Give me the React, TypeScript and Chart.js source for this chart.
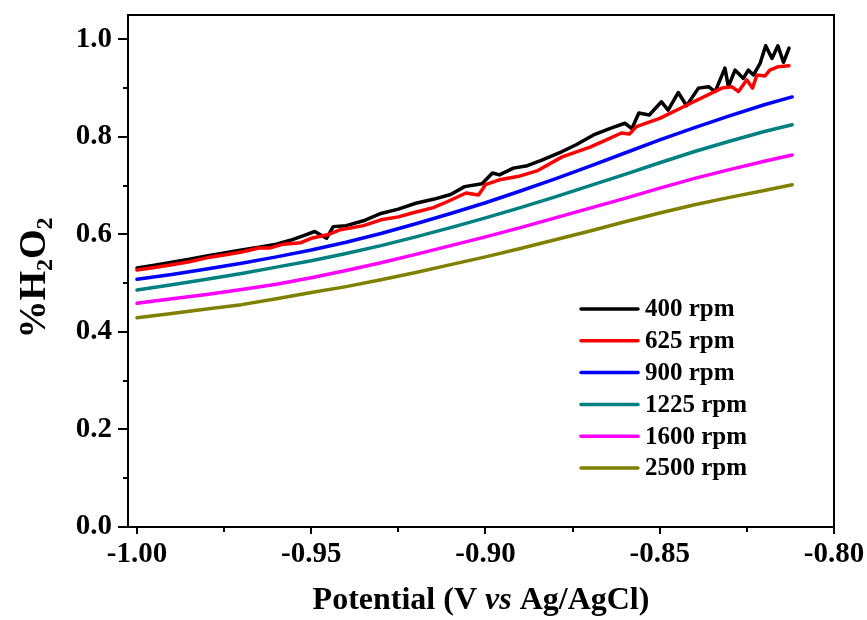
import { useEffect, useRef } from 'react';
import { Chart, registerables } from 'chart.js';

Chart.register(...registerables);

// ---------- data ----------
const seriesNames = ['400 rpm', '625 rpm', '900 rpm', '1225 rpm', '1600 rpm', '2500 rpm'];

const potential400 = [
  -1.0, -0.995, -0.99, -0.985, -0.98, -0.975, -0.97, -0.965, -0.96, -0.956, -0.952, -0.949, -0.9456, -0.9437,
  -0.94, -0.935, -0.93, -0.925, -0.92, -0.915, -0.91, -0.906, -0.901, -0.898, -0.896, -0.892, -0.888, -0.884,
  -0.878, -0.874, -0.869, -0.864, -0.86, -0.858, -0.856, -0.853, -0.8495, -0.8476, -0.8447, -0.8423, -0.8389,
  -0.836, -0.8341, -0.8313, -0.8303, -0.8284, -0.826, -0.8246, -0.8231, -0.8212, -0.8196, -0.8178, -0.8161,
  -0.8145, -0.8129,
];
const h2o2_400 = [
  0.531, 0.537, 0.543, 0.549, 0.556, 0.562, 0.568, 0.574, 0.58, 0.588, 0.598, 0.606, 0.592, 0.616,
  0.618, 0.628, 0.643, 0.652, 0.664, 0.672, 0.682, 0.698, 0.704, 0.726, 0.722, 0.736, 0.741, 0.752,
  0.77, 0.784, 0.804, 0.818, 0.828, 0.817, 0.849, 0.845, 0.872, 0.855, 0.891, 0.864, 0.9,
  0.903, 0.893, 0.941, 0.903, 0.937, 0.92, 0.937, 0.927, 0.951, 0.987, 0.961, 0.987,
  0.953, 0.982,
];

const potential625 = [
  -1.0, -0.995, -0.99, -0.985, -0.98, -0.975, -0.97, -0.965, -0.962, -0.958, -0.953, -0.95, -0.945, -0.942,
  -0.935, -0.93, -0.925, -0.921, -0.915, -0.911, -0.9056, -0.902, -0.9, -0.896, -0.89, -0.885, -0.878, -0.87,
  -0.865, -0.861, -0.8587, -0.8567, -0.85, -0.842, -0.8322, -0.8294, -0.8274, -0.825, -0.8234, -0.8221,
  -0.8198, -0.8184, -0.816, -0.8129,
];
const h2o2_625 = [
  0.527, 0.532, 0.538, 0.544, 0.552, 0.558, 0.564, 0.572, 0.572, 0.58, 0.583, 0.592, 0.6, 0.609,
  0.618, 0.63, 0.636, 0.644, 0.655, 0.667, 0.685, 0.681, 0.702, 0.712, 0.72, 0.731, 0.759, 0.779,
  0.795, 0.808, 0.806, 0.821, 0.838, 0.866, 0.9, 0.903, 0.893, 0.917, 0.9, 0.927,
  0.925, 0.937, 0.944, 0.946,
];

const potentialCommon = [
  -1.0, -0.99, -0.98, -0.97, -0.96, -0.95, -0.94, -0.93, -0.92, -0.91, -0.9, -0.89, -0.88, -0.87, -0.86, -0.85,
  -0.84, -0.83, -0.82, -0.812,
];
const h2o2_900 = [
  0.508, 0.518, 0.529, 0.541, 0.554, 0.568, 0.584, 0.602, 0.622, 0.643, 0.665, 0.689, 0.714, 0.74, 0.767, 0.794,
  0.819, 0.843, 0.866, 0.882,
];
const h2o2_1225 = [
  0.486, 0.497, 0.508, 0.52, 0.533, 0.546, 0.561, 0.577, 0.595, 0.614, 0.634, 0.655, 0.677, 0.7, 0.723, 0.747,
  0.77, 0.791, 0.811, 0.825,
];
const h2o2_1600 = [
  0.459, 0.468, 0.477, 0.487, 0.498, 0.511, 0.526, 0.542, 0.559, 0.577, 0.595, 0.614, 0.634, 0.654, 0.674, 0.695,
  0.715, 0.733, 0.75, 0.763,
];
const h2o2_2500 = [
  0.429, 0.438, 0.447, 0.456, 0.468, 0.481, 0.493, 0.507, 0.522, 0.538, 0.554, 0.571, 0.589, 0.607, 0.626, 0.644,
  0.661, 0.676, 0.69, 0.702,
];

const xMajorTicks = [-1.0, -0.95, -0.9, -0.85, -0.8];
const xMinorTicks = [-0.975, -0.925, -0.875, -0.825];
const yMajorTicks = [0, 0.2, 0.4, 0.6, 0.8, 1.0];
const yMinorTicks = [0.1, 0.3, 0.5, 0.7, 0.9];

const xTitleParts = [
  { text: 'Potential (V ', italic: false },
  { text: 'vs', italic: true },
  { text: ' Ag/AgCl)', italic: false },
];
const yTitleParts = [
  { text: '%H', sub: false },
  { text: '2', sub: true },
  { text: 'O', sub: false },
  { text: '2', sub: true },
];

// ---------- styles ----------
const colors = ['#000000', '#ff0000', '#0000ff', '#008080', '#ff00ff', '#808000'];
const FONT = '"Liberation Serif", "Times New Roman", serif';

const zip = (xs: number[], ys: number[]) => xs.map((x, i) => ({ x, y: ys[i] }));

const overlayPlugin = {
  id: 'overlay',
  afterDraw(chart: any) {
    const { ctx, chartArea } = chart;
    const xs = chart.scales.x;
    const ys = chart.scales.y;
    const { left, right, top, bottom } = chartArea;
    ctx.save();
    ctx.strokeStyle = '#000';
    ctx.lineWidth = 2;
    ctx.lineCap = 'butt';
    // frame
    ctx.strokeRect(left, top, right - left, bottom - top);
    // ticks
    ctx.beginPath();
    xMajorTicks.forEach((v) => {
      const px = Math.round(xs.getPixelForValue(v));
      ctx.moveTo(px, bottom);
      ctx.lineTo(px, bottom + 7);
    });
    xMinorTicks.forEach((v) => {
      const px = Math.round(xs.getPixelForValue(v));
      ctx.moveTo(px, bottom);
      ctx.lineTo(px, bottom + 5);
    });
    yMajorTicks.forEach((v) => {
      const py = Math.round(ys.getPixelForValue(v));
      ctx.moveTo(left, py);
      ctx.lineTo(left - 10, py);
    });
    yMinorTicks.forEach((v) => {
      const py = Math.round(ys.getPixelForValue(v));
      ctx.moveTo(left, py);
      ctx.lineTo(left - 5, py);
    });
    ctx.stroke();

    ctx.fillStyle = '#000';
    // x title
    ctx.textBaseline = 'alphabetic';
    ctx.textAlign = 'left';
    const xfont = (it: boolean) => `${it ? 'italic ' : ''}bold 32px ${FONT}`;
    let total = 0;
    xTitleParts.forEach((p) => {
      ctx.font = xfont(p.italic);
      total += ctx.measureText(p.text).width;
    });
    let cx = (left + right) / 2 - total / 2;
    xTitleParts.forEach((p) => {
      ctx.font = xfont(p.italic);
      ctx.fillText(p.text, cx, 609);
      cx += ctx.measureText(p.text).width;
    });

    // y title
    ctx.save();
    ctx.translate(45, 278);
    ctx.rotate(-Math.PI / 2);
    const yfont = (sub: boolean) => `bold ${sub ? 24 : 38}px ${FONT}`;
    let ytotal = 0;
    yTitleParts.forEach((p) => {
      ctx.font = yfont(p.sub);
      ytotal += ctx.measureText(p.text).width;
    });
    let ty = -ytotal / 2;
    yTitleParts.forEach((p) => {
      ctx.font = yfont(p.sub);
      ctx.fillText(p.text, ty, p.sub ? 7 : 0);
      ty += ctx.measureText(p.text).width;
    });
    ctx.restore();

    // legend
    ctx.font = `bold 25px ${FONT}`;
    ctx.textBaseline = 'middle';
    ctx.lineWidth = 3.5;
    ctx.lineCap = 'round';
    seriesNames.forEach((name, i) => {
      const y = 309 + i * 31.8;
      ctx.strokeStyle = colors[i];
      ctx.beginPath();
      ctx.moveTo(581, y);
      ctx.lineTo(638, y);
      ctx.stroke();
      ctx.fillStyle = '#000';
      ctx.fillText(name, 645, y + 1);
    });
    ctx.restore();
  },
};

const zeroPad = (s: any) => {
  s.paddingTop = 0;
  s.paddingBottom = 0;
  s.paddingLeft = 0;
  s.paddingRight = 0;
};

export default function App() {
  const ref = useRef<HTMLCanvasElement | null>(null);
  useEffect(() => {
    if (!ref.current) return;
    const seriesData = [
      zip(potential400, h2o2_400),
      zip(potential625, h2o2_625),
      zip(potentialCommon, h2o2_900),
      zip(potentialCommon, h2o2_1225),
      zip(potentialCommon, h2o2_1600),
      zip(potentialCommon, h2o2_2500),
    ];
    const chart = new Chart(ref.current, {
      type: 'line',
      data: {
        datasets: seriesData.map((d, i) => ({
          label: seriesNames[i],
          data: d,
          borderColor: colors[i],
          backgroundColor: colors[i],
          borderWidth: 3.5,
          borderJoinStyle: 'round',
          borderCapStyle: 'round',
          pointRadius: 0,
          tension: 0,
          fill: false,
          order: i === 0 ? 1 : 0,
        })),
      },
      options: {
        animation: false,
        responsive: false,
        events: [],
        layout: { padding: { left: 0, top: 15, right: 33, bottom: 0 } },
        plugins: { legend: { display: false }, tooltip: { enabled: false } },
        scales: {
          x: {
            type: 'linear',
            min: -1.00258,
            max: -0.8,
            afterBuildTicks: (s: any) => {
              s.ticks = xMajorTicks.map((v) => ({ value: v }));
            },
            afterFit: (s: any) => {
              s.height = 93;
              zeroPad(s);
            },
            grid: { display: false, drawTicks: false },
            border: { display: false },
            ticks: {
              padding: 10,
              color: '#000',
              maxRotation: 0,
              autoSkip: false,
              font: { family: FONT, size: 29, weight: 'bold' },
              callback: (v: any) => Number(v).toFixed(2),
            },
          },
          y: {
            type: 'linear',
            min: 0,
            max: 1.05,
            afterBuildTicks: (s: any) => {
              s.ticks = yMajorTicks.map((v) => ({ value: v }));
            },
            afterFit: (s: any) => {
              s.width = 128;
              zeroPad(s);
            },
            grid: { display: false, drawTicks: false },
            border: { display: false },
            ticks: {
              padding: 16,
              color: '#000',
              autoSkip: false,
              font: { family: FONT, size: 29, weight: 'bold' },
              callback: (v: any) => Number(v).toFixed(1),
            },
          },
        },
      },
      plugins: [overlayPlugin],
    });
    return () => chart.destroy();
  }, []);
  return (
    <div style={{ position: 'fixed', left: 0, top: 0, width: 867, height: 620, background: '#fff' }}>
      <canvas ref={ref} width={867} height={620} style={{ display: 'block' }} />
    </div>
  );
}
